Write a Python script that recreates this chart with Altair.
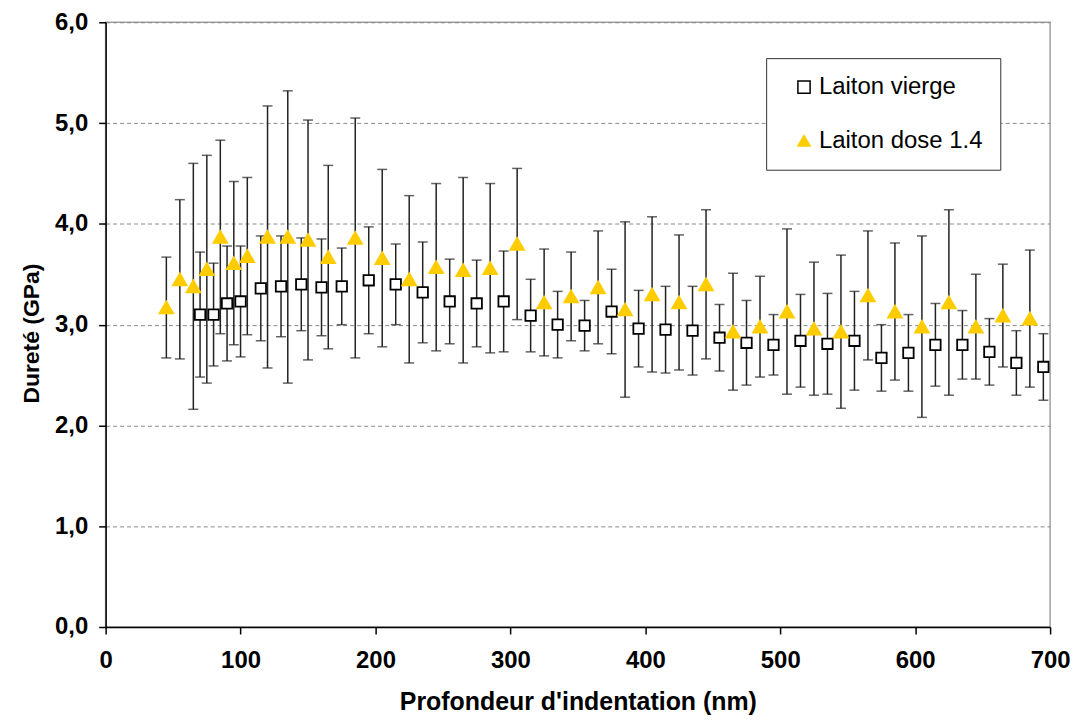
import altair as alt
import pandas as pd

# ---- data ----
vierge_x = [70, 80, 90, 100, 115, 130, 145, 160, 175, 195, 215, 235, 255, 275, 295,
            315, 335, 355, 375, 395, 415, 435, 455, 475, 495, 515, 535, 555, 575,
            595, 615, 635, 655, 675, 695]
vierge_y = [3.10, 3.10, 3.21, 3.23, 3.36, 3.38, 3.40, 3.37, 3.38, 3.44, 3.40, 3.32,
            3.23, 3.21, 3.23, 3.09, 3.00, 2.99, 3.13, 2.96, 2.95, 2.94, 2.87, 2.82,
            2.80, 2.84, 2.81, 2.84, 2.67, 2.72, 2.80, 2.80, 2.73, 2.62, 2.58]
vierge_err = [0.62, 0.51, 0.57, 0.55, 0.52, 0.50, 0.46, 0.48, 0.38, 0.53, 0.40, 0.50,
              0.42, 0.43, 0.50, 0.36, 0.33, 0.25, 0.42, 0.38, 0.43, 0.44, 0.33, 0.42,
              0.30, 0.46, 0.50, 0.49, 0.33, 0.38, 0.41, 0.34, 0.33, 0.32, 0.33]

dose_x = [45, 55, 65, 75, 85, 95, 105, 120, 135, 150, 165, 185, 205, 225, 245, 265,
          285, 305, 325, 345, 365, 385, 405, 425, 445, 465, 485, 505, 525, 545, 565,
          585, 605, 625, 645, 665, 685]
dose_y = [3.17, 3.45, 3.38, 3.55, 3.87, 3.61, 3.68, 3.87, 3.87, 3.84, 3.67, 3.86,
          3.66, 3.45, 3.57, 3.54, 3.56, 3.80, 3.22, 3.28, 3.37, 3.15, 3.30, 3.22,
          3.40, 2.93, 2.98, 3.13, 2.96, 2.93, 3.29, 3.13, 2.98, 3.22, 2.98, 3.09, 3.06]
dose_err = [0.50, 0.79, 1.22, 1.13, 0.96, 0.81, 0.78, 1.30, 1.45, 1.19, 0.91, 1.19,
            0.88, 0.83, 0.83, 0.92, 0.84, 0.75, 0.53, 0.44, 0.56, 0.87, 0.77, 0.67,
            0.74, 0.58, 0.50, 0.82, 0.66, 0.76, 0.64, 0.68, 0.90, 0.92, 0.52, 0.51, 0.68]

series_names = ["Laiton vierge", "Laiton dose 1.4"]
y_ticks = [0, 1, 2, 3, 4, 5, 6]
x_ticks = [0, 100, 200, 300, 400, 500, 600, 700]

rows = []
for name, xs, ys, es in [(series_names[0], vierge_x, vierge_y, vierge_err),
                         (series_names[1], dose_x, dose_y, dose_err)]:
    for xv, yv, ev in zip(xs, ys, es):
        rows.append({"series": name, "x": xv, "y": yv, "lo": yv - ev, "hi": yv + ev})
df = pd.DataFrame(rows)

FONT = "Liberation Sans"
ERR = "#222222"

xscale = alt.Scale(domain=[0, 700], nice=False, zero=False)
yscale = alt.Scale(domain=[0, 6], nice=False)

x_enc = alt.X("x:Q", scale=xscale, axis=alt.Axis(
    values=x_ticks, title="Profondeur d'indentation (nm)", grid=False,
    labelFont=FONT, labelFontSize=24, labelFontWeight="bold", labelColor="black",
    labelPadding=15, labelFlush=False, tickSize=7, tickColor="black", tickWidth=1.5,
    domainColor="black", domainWidth=1.5,
    titleFont=FONT, titleFontSize=25, titleFontWeight="bold", titleColor="black",
    titleY=75, titleBaseline="middle"))

y_enc = alt.Y("y:Q", scale=yscale, axis=alt.Axis(
    values=y_ticks, title="Dureté (GPa)", grid=True, gridColor="#8a8a8a",
    gridDash=[4, 3], gridWidth=1,
    labelExpr="replace(format(datum.value, '.1f'), '.', ',')",
    labelFont=FONT, labelFontSize=24, labelFontWeight="bold", labelColor="black",
    labelPadding=11, labelFlush=False, tickSize=7, tickColor="black", tickWidth=1.5,
    domainColor="black", domainWidth=1.5,
    titleFont=FONT, titleFontSize=23, titleFontWeight="bold", titleColor="black",
    titleX=-74, titleY=312, titleBaseline="middle", titleAngle=-90))

base = alt.Chart(df)

bars = base.mark_rule(color=ERR, strokeWidth=1.5).encode(
    x=alt.X("x:Q", scale=xscale), y=alt.Y("lo:Q", scale=yscale), y2="hi:Q")
cap_lo = base.mark_tick(color=ERR, size=10, thickness=1.5, orient="horizontal").encode(
    x=alt.X("x:Q", scale=xscale), y=alt.Y("lo:Q", scale=yscale))
cap_hi = base.mark_tick(color=ERR, size=10, thickness=1.5, orient="horizontal").encode(
    x=alt.X("x:Q", scale=xscale), y=alt.Y("hi:Q", scale=yscale))

legend = alt.Legend(
    title=None, orient="none", legendX=663, legendY=36,
    strokeColor="#333333", fillColor="white", padding=17,
    labelFont=FONT, labelFontSize=24, labelColor="black", labelOffset=3,
    labelLimit=400, rowPadding=30, symbolSize=150, symbolStrokeWidth=1.5,
    symbolOffset=9)

shape_scale = alt.Scale(domain=series_names, range=["square", "triangle-up"])
fill_scale = alt.Scale(domain=series_names, range=["white", "#FFCC00"])
stroke_scale = alt.Scale(domain=series_names, range=["black", "#FFCC00"])


def point_layer(name, size):
    return base.transform_filter(alt.datum.series == name).mark_point(
        opacity=1, strokeWidth=1.8, size=size).encode(
        x=x_enc, y=y_enc,
        shape=alt.Shape("series:N", scale=shape_scale, legend=legend),
        fill=alt.Fill("series:N", scale=fill_scale, legend=legend),
        stroke=alt.Stroke("series:N", scale=stroke_scale, legend=legend),
    )


squares = point_layer(series_names[0], 110)
triangles = point_layer(series_names[1], 190)

chart = alt.layer(bars, cap_lo, cap_hi, squares, triangles).properties(
    width=948, height=607,
    autosize=alt.AutoSizeParams(type="none"),
    padding={"left": 98, "top": 13, "right": 24, "bottom": 89},
    background="white",
).configure_view(stroke="#a0a0a0", strokeWidth=1.5)

chart.save("out.html", embed_options={"renderer": "svg", "actions": False})
